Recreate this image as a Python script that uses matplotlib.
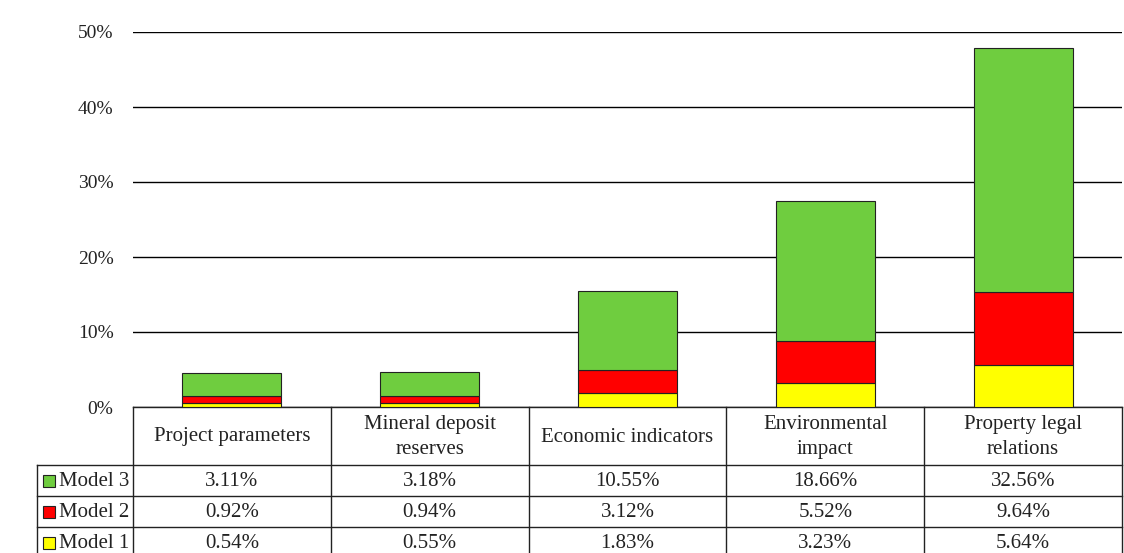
import matplotlib
matplotlib.use("Agg")
import matplotlib.pyplot as plt
from matplotlib.transforms import blended_transform_factory
from matplotlib.patches import Rectangle
import numpy as np

categories = ["Project parameters", "Mineral deposit\nreserves", "Economic indicators",
              "Environmental\nimpact", "Property legal\nrelations"]
model1 = [0.54, 0.55, 1.83, 3.23, 5.64]
model2 = [0.92, 0.94, 3.12, 5.52, 9.64]
model3 = [3.11, 3.18, 10.55, 18.66, 32.56]
series_names = ["Model 3", "Model 2", "Model 1"]
yticks = [0, 10, 20, 30, 40, 50]

colors = {"Model 1": "#FFFF00", "Model 2": "#FF0000", "Model 3": "#6FCD3F"}
FONT = "Liberation Serif"
plt.rcParams["font.family"] = [FONT, "DejaVu Serif"]

W, H = 1124, 553
fig = plt.figure(figsize=(W / 100, H / 100), dpi=100)
fig.patch.set_facecolor("white")

def fy(py):  # pixel from top -> figure fraction
    return 1 - py / H

left_px, right_px = 133, 1122
top_px, zero_px = 32, 407
ax = fig.add_axes([left_px / W, fy(zero_px), (right_px - left_px) / W, (zero_px - top_px) / H])

x = np.arange(len(categories))
m1 = np.array(model1); m2 = np.array(model2); m3 = np.array(model3)
bw = 0.5
ax.bar(x, m1, bw, color=colors["Model 1"], edgecolor="#222222", linewidth=0.8, zorder=3)
ax.bar(x, m2, bw, bottom=m1, color=colors["Model 2"], edgecolor="#222222", linewidth=0.8, zorder=3)
ax.bar(x, m3, bw, bottom=m1 + m2, color=colors["Model 3"], edgecolor="#222222", linewidth=0.8, zorder=3)

fs = 15
ax.set_xlim(-0.5, len(categories) - 0.5)
ax.set_ylim(0, 50)
ax.set_yticks(yticks)
ax.set_yticklabels([f"{v}%" for v in yticks], fontsize=14, color="#222222")
ax.tick_params(axis="y", length=0, pad=14)
ax.set_xticks([])
ax.grid(axis="y", color="black", linewidth=1.0, zorder=0)
for s in ax.spines.values():
    s.set_visible(False)

# Table drawn below axes
tr = blended_transform_factory(ax.transData, fig.transFigure)
row_px = [407, 465, 496, 527, 558]
label_left = -0.5 - (133 - 37) / ((right_px - left_px) / len(categories))
xr = len(categories) - 0.5
lw = 1.0
lc = "#222222"
for i, py in enumerate(row_px):
    x0 = -0.5 if i == 0 else label_left
    ax.plot([x0, xr], [fy(py), fy(py)], transform=tr, color=lc, lw=lw, clip_on=False)
for j in range(len(categories) + 1):
    xv = -0.5 + j
    ax.plot([xv, xv], [fy(row_px[0]), fy(row_px[-1])], transform=tr, color=lc, lw=lw, clip_on=False)
ax.plot([label_left, label_left], [fy(row_px[1]), fy(row_px[-1])], transform=tr, color=lc, lw=lw, clip_on=False)

for j, c in enumerate(categories):
    ax.text(j, fy((row_px[0] + row_px[1]) / 2 + 1), c, transform=tr, ha="center", va="center",
            fontsize=fs, color="#222222", linespacing=1.4)

rows = {"Model 3": model3, "Model 2": model2, "Model 1": model1}
for i, name in enumerate(series_names):
    yc = fy((row_px[i + 1] + row_px[i + 2]) / 2) - 0.002
    for j, v in enumerate(rows[name]):
        ax.text(j, yc, f"{v:.2f}%", transform=tr, ha="center", va="center", fontsize=fs, color="#222222")
    sq = Rectangle((43 / W, fy((row_px[i + 1] + row_px[i + 2]) / 2 + 6)), 12 / W, 12 / H,
                   transform=fig.transFigure, facecolor=colors[name], edgecolor="#222222", lw=0.8)
    fig.patches.append(sq)
    fig.text(59 / W, yc, name, ha="left", va="center", fontsize=fs, color="#222222")

fig.savefig("out.png", dpi=100, facecolor="white")
